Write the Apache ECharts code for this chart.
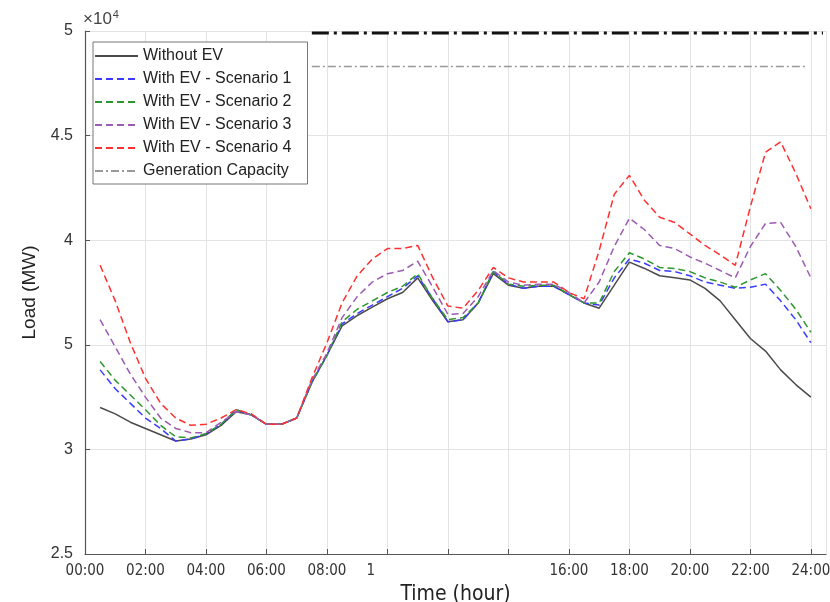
<!DOCTYPE html>
<html>
<head>
<meta charset="utf-8">
<script src="https://cdn.jsdelivr.net/npm/echarts@6.0.0/dist/echarts.min.js"></script>
<style>
  html, body { margin: 0; padding: 0; background: #fff; }
  #main { width: 830px; height: 602px; }
</style>
</head>
<body>
<div id="main"></div>
<script>
// half-hour time stamps (hours)
var times = [0.5, 1, 1.5, 2, 2.5, 3, 3.5, 4, 4.5, 5, 5.5, 6, 6.5, 7, 7.5, 8, 8.5, 9, 9.5, 10, 10.5, 11, 11.5, 12,
             12.5, 13, 13.5, 14, 14.5, 15, 15.5, 16, 16.5, 17, 17.5, 18, 18.5, 19, 19.5, 20, 20.5, 21, 21.5, 22, 22.5, 23, 23.5, 24];

// load values, x10^4 MW
var withoutEV = [3.20, 3.17, 3.13, 3.10, 3.07, 3.04, 3.05, 3.07, 3.115, 3.18, 3.165, 3.12, 3.12, 3.15, 3.32, 3.45,
                 3.59, 3.64, 3.68, 3.72, 3.75, 3.82, 3.71, 3.61, 3.62, 3.70, 3.84, 3.785, 3.77, 3.78, 3.78, 3.74,
                 3.70, 3.675, 3.785, 3.895, 3.865, 3.83, 3.82, 3.81, 3.77, 3.71, 3.62, 3.53, 3.47, 3.38, 3.31, 3.25];
var scenario1 = [3.38, 3.29, 3.22, 3.15, 3.10, 3.04, 3.05, 3.075, 3.12, 3.19, 3.165, 3.12, 3.12, 3.15, 3.32, 3.45,
                 3.60, 3.65, 3.69, 3.73, 3.77, 3.83, 3.72, 3.61, 3.62, 3.70, 3.85, 3.79, 3.77, 3.78, 3.78, 3.74,
                 3.70, 3.69, 3.82, 3.91, 3.89, 3.855, 3.85, 3.83, 3.80, 3.785, 3.77, 3.775, 3.79, 3.71, 3.62, 3.51];
var scenario2 = [3.42, 3.33, 3.26, 3.19, 3.115, 3.06, 3.055, 3.075, 3.12, 3.19, 3.165, 3.12, 3.12, 3.15, 3.32, 3.45,
                 3.61, 3.67, 3.71, 3.75, 3.78, 3.84, 3.72, 3.62, 3.63, 3.70, 3.85, 3.79, 3.78, 3.785, 3.785, 3.74,
                 3.70, 3.70, 3.85, 3.94, 3.91, 3.87, 3.865, 3.85, 3.82, 3.80, 3.775, 3.81, 3.84, 3.76, 3.67, 3.56];
var scenario3 = [3.62, 3.49, 3.36, 3.25, 3.15, 3.10, 3.08, 3.08, 3.13, 3.18, 3.165, 3.12, 3.12, 3.15, 3.33, 3.46,
                 3.63, 3.73, 3.80, 3.84, 3.855, 3.90, 3.775, 3.645, 3.65, 3.73, 3.855, 3.80, 3.785, 3.79, 3.79, 3.75,
                 3.70, 3.80, 3.97, 4.105, 4.05, 3.975, 3.96, 3.92, 3.89, 3.855, 3.82, 3.97, 4.08, 4.085, 3.97, 3.82];
var scenario4 = [3.88, 3.71, 3.51, 3.34, 3.22, 3.15, 3.115, 3.12, 3.15, 3.19, 3.17, 3.12, 3.12, 3.15, 3.34, 3.51,
                 3.70, 3.83, 3.91, 3.96, 3.96, 3.975, 3.82, 3.685, 3.675, 3.76, 3.87, 3.82, 3.80, 3.80, 3.80, 3.75,
                 3.72, 3.95, 4.22, 4.31, 4.19, 4.11, 4.085, 4.03, 3.975, 3.93, 3.88, 4.16, 4.42, 4.47, 4.32, 4.15];

// generation capacity lines: [start hour, end hour], level
var genCapTimes = [7.5, 23.9];
var genCapValue = 4.83;
var upperLimitTimes = [7.5, 24.4];
var upperLimitValue = 4.99;

// tick labels as printed on the figure
var xTickLabels = ['00:00', '02:00', '04:00', '06:00', '08:00', '1', '', '', '16:00', '18:00', '20:00', '22:00', '24:00'];
var yTickLabels = ['2.5', '3', '5', '4', '4.5', '5'];

function pairs(xs, ys) {
  return xs.map(function(x, i) { return [x, ys[i]]; });
}

var chart = echarts.init(document.getElementById('main'));

var narrowFont = 'DejaVu Sans Condensed, Liberation Sans Narrow, Liberation Sans';
var dashed = [7, 4];
function loadSeries(name, data, color, type) {
  return {
    name: name,
    type: 'line',
    data: pairs(times, data),
    symbol: 'none',
    lineStyle: { color: color, width: 1.5, type: type },
    itemStyle: { color: color },
    z: 3
  };
}

var option = {
  animation: false,
  backgroundColor: '#fff',
  textStyle: { fontFamily: 'Liberation Sans, Arial, sans-serif' },
  grid: { left: 85, right: 4, top: 31, bottom: 48, outerBoundsMode: 'none', containLabel: false },
  graphic: [{
    type: 'text',
    left: 83,
    top: 9,
    style: {
      text: '{a|×10}{b|4}',
      rich: {
        a: { fontSize: 17, fill: '#444', fontFamily: 'Liberation Sans' },
        b: { fontSize: 11, fill: '#444', verticalAlign: 'top', padding: [0, 0, 9, 1], fontFamily: 'Liberation Sans' }
      }
    }
  }],
  legend: {
    orient: 'vertical',
    left: 93,
    top: 42,
    padding: [6, 16, 5, 1],
    itemWidth: 43,
    itemHeight: 14,
    itemGap: 7,
    backgroundColor: '#fff',
    borderColor: '#777',
    borderWidth: 1,
    borderRadius: 0,
    itemStyle: { opacity: 0 },
    textStyle: { fontSize: 16, color: '#222', fontFamily: 'Liberation Sans' },
    data: ['Without EV', 'With EV - Scenario 1', 'With EV - Scenario 2', 'With EV - Scenario 3', 'With EV - Scenario 4', 'Generation Capacity']
  },
  xAxis: {
    type: 'value',
    min: 0,
    max: 24.5,
    interval: 2,
    name: 'Time (hour)',
    nameLocation: 'middle',
    nameGap: 19,
    nameTextStyle: { fontSize: 21, color: '#222', fontFamily: narrowFont },
    axisLine: { show: true, lineStyle: { color: '#555', width: 1.2 } },
    axisTick: { show: true, inside: true, length: 5, lineStyle: { color: '#555' } },
    axisLabel: {
      margin: 10,
      fontSize: 15,
      color: '#333',
      fontFamily: narrowFont,
      showMaxLabel: false,
      formatter: function(v) {
        var i = Math.round(v / 2);
        if (Math.abs(v - i * 2) > 1e-6 || xTickLabels[i] === undefined) return '';
        return xTickLabels[i].length === 1 ? '{l|' + xTickLabels[i] + '}' : xTickLabels[i];
      },
      rich: {
        l: { width: 42, align: 'left', fontSize: 15, color: '#333', fontFamily: narrowFont }
      }
    },
    splitLine: { show: true, lineStyle: { color: '#e3e3e3', width: 1 } }
  },
  yAxis: {
    type: 'value',
    min: 2.5,
    max: 5,
    interval: 0.5,
    name: 'Load (MW)',
    nameLocation: 'middle',
    nameRotate: 90,
    nameGap: 46,
    nameTextStyle: { fontSize: 19, color: '#222' },
    axisLine: { show: true, lineStyle: { color: '#555', width: 1.2 } },
    axisTick: { show: true, inside: true, length: 5, lineStyle: { color: '#555' } },
    axisLabel: {
      margin: 12,
      fontSize: 16,
      color: '#333',
      formatter: function(v) {
        var i = Math.round((v - 2.5) / 0.5);
        return yTickLabels[i] !== undefined ? yTickLabels[i] : '';
      }
    },
    splitLine: { show: true, lineStyle: { color: '#e3e3e3', width: 1 } }
  },
  series: [
    loadSeries('Without EV', withoutEV, '#4a4a4a', 'solid'),
    loadSeries('With EV - Scenario 1', scenario1, '#3b3bff', dashed),
    loadSeries('With EV - Scenario 2', scenario2, '#2e962e', dashed),
    loadSeries('With EV - Scenario 3', scenario3, '#9b5bb5', dashed),
    loadSeries('With EV - Scenario 4', scenario4, '#ff3030', dashed),
    {
      name: 'Generation Capacity',
      type: 'line',
      data: pairs(genCapTimes, [genCapValue, genCapValue]),
      symbol: 'none',
      lineStyle: { color: '#999', width: 1.5, type: [8, 3, 2, 3] },
      itemStyle: { color: '#999' }
    },
    {
      name: 'upper',
      type: 'line',
      data: pairs(upperLimitTimes, [upperLimitValue, upperLimitValue]),
      symbol: 'none',
      lineStyle: { color: '#111', width: 3, type: [17, 5, 3, 5] },
      itemStyle: { color: '#111' }
    }
  ]
};

chart.setOption(option);
</script>
</body>
</html>
